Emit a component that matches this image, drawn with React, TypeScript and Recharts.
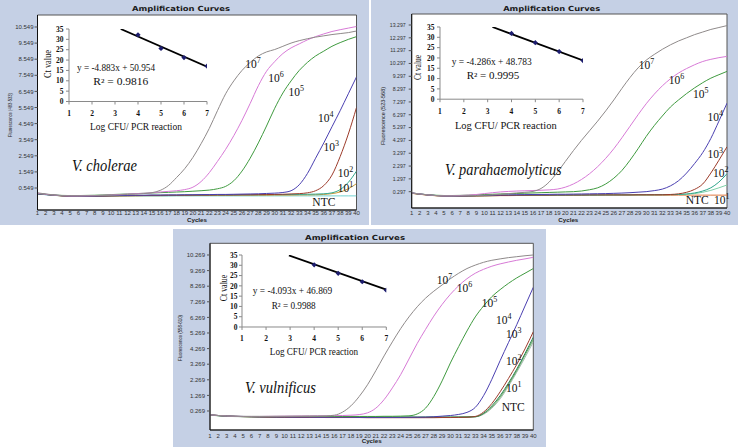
import React from "react";
import {
  LineChart,
  Line,
  XAxis,
  YAxis,
  CartesianGrid,
  ReferenceDot,
  ReferenceArea,
  ComposedChart,
  Scatter,
} from "recharts";

// ---------- categories ----------
const cycles = [1,2,3,4,5,6,7,8,9,10,11,12,13,14,15,16,17,18,19,20,21,22,23,24,25,26,27,28,29,30,31,32,33,34,35,36,37,38,39,40];
const logTicks = [1,2,3,4,5,6,7];
const ctTicks = [0,5,10,15,20,25,30,35];

// ---------- V. cholerae ----------
const chE7 = [0.25,0.18,0.12,0.08,0.06,0.05,0.06,0.07,0.08,0.10,0.12,0.15,0.17,0.20,0.26,0.40,0.70,1.20,1.75,2.45,3.30,4.25,5.35,6.40,7.20,7.85,8.35,8.75,9.00,9.15,9.35,9.55,9.70,9.82,9.92,10.00,10.08,10.14,10.20,10.30];
const chE6 = [0.22,0.16,0.11,0.08,0.06,0.06,0.07,0.08,0.10,0.12,0.14,0.17,0.20,0.22,0.25,0.30,0.34,0.38,0.45,0.60,0.95,1.50,2.20,2.95,3.80,4.75,5.80,6.90,7.80,8.40,8.90,9.25,9.50,9.75,9.95,10.12,10.27,10.38,10.48,10.58];
const chE5 = [0.20,0.15,0.11,0.09,0.08,0.08,0.09,0.10,0.12,0.14,0.16,0.18,0.20,0.22,0.24,0.26,0.28,0.30,0.32,0.35,0.38,0.42,0.50,0.65,1.00,1.60,2.40,3.35,4.40,5.50,6.45,7.20,7.85,8.35,8.75,9.05,9.35,9.58,9.78,9.95];
const chE4 = [0.18,0.14,0.10,0.07,0.05,0.04,0.04,0.05,0.06,0.07,0.08,0.09,0.10,0.10,0.11,0.11,0.12,0.12,0.13,0.13,0.14,0.14,0.15,0.15,0.16,0.17,0.18,0.19,0.21,0.23,0.27,0.38,0.75,1.45,2.40,3.35,4.35,5.35,6.40,7.45];
const chE3 = [0.20,0.15,0.10,0.06,0.04,0.03,0.03,0.04,0.05,0.06,0.07,0.07,0.08,0.08,0.09,0.09,0.10,0.10,0.10,0.11,0.11,0.11,0.12,0.12,0.12,0.13,0.13,0.14,0.14,0.15,0.16,0.18,0.20,0.25,0.38,0.70,1.35,2.50,3.90,5.55];
const chE2 = [0.22,0.16,0.11,0.07,0.05,0.04,0.04,0.05,0.06,0.07,0.08,0.08,0.09,0.09,0.10,0.10,0.10,0.10,0.11,0.11,0.11,0.12,0.12,0.12,0.12,0.13,0.13,0.13,0.14,0.14,0.14,0.15,0.15,0.16,0.17,0.19,0.25,0.45,0.90,1.60];
const chE1 = [0.20,0.15,0.10,0.06,0.04,0.03,0.03,0.04,0.04,0.05,0.05,0.06,0.06,0.07,0.07,0.07,0.08,0.08,0.08,0.08,0.09,0.09,0.09,0.09,0.10,0.10,0.10,0.10,0.10,0.11,0.11,0.11,0.12,0.12,0.13,0.15,0.20,0.30,0.50,0.82];
const chNtc = [0.18,0.13,0.09,0.06,0.04,0.03,0.03,0.03,0.04,0.04,0.04,0.05,0.05,0.05,0.05,0.05,0.05,0.06,0.06,0.06,0.06,0.06,0.06,0.06,0.06,0.06,0.06,0.06,0.06,0.06,0.06,0.06,0.06,0.06,0.06,0.06,0.06,0.06,0.06,0.06];
const chYTicks = [0.549,1.549,2.549,3.549,4.549,5.549,6.549,7.549,8.549,9.549,10.549];
const chPointX = [4,5,6,7];
const chPointY = [32.2,25.6,21.2,17.1];
const chFitX = [3.25,7];
const chFitY = [35.0,16.8];

// ---------- V. parahaemolyticus ----------
const paE7 = [0.20,0.12,0.05,0.00,-0.03,-0.04,-0.03,-0.02,0.00,0.02,0.05,0.10,0.15,0.20,0.25,0.32,0.55,1.05,1.80,2.65,3.50,4.30,5.05,5.80,6.60,7.45,8.35,9.20,9.95,10.55,11.00,11.40,11.75,12.05,12.30,12.55,12.75,12.95,13.10,13.25];
const paE6 = [0.20,0.12,0.05,0.00,-0.02,-0.02,0.00,0.03,0.08,0.15,0.22,0.28,0.32,0.35,0.37,0.39,0.41,0.44,0.50,0.65,0.90,1.25,1.70,2.25,2.90,3.65,4.50,5.40,6.30,7.15,7.90,8.55,9.10,9.55,9.90,10.20,10.45,10.62,10.75,10.85];
const paE5 = [0.20,0.12,0.06,0.02,0.00,0.00,0.01,0.03,0.05,0.08,0.10,0.12,0.14,0.16,0.18,0.20,0.22,0.24,0.26,0.28,0.30,0.35,0.45,0.60,0.90,1.35,1.95,2.75,3.65,4.60,5.45,6.20,6.90,7.45,7.95,8.40,8.80,9.15,9.42,9.68];
const paE4 = [0.20,0.12,0.05,0.00,-0.03,-0.04,-0.03,-0.02,0.00,0.02,0.03,0.04,0.05,0.06,0.07,0.08,0.08,0.09,0.10,0.10,0.11,0.12,0.13,0.14,0.15,0.17,0.19,0.22,0.26,0.30,0.38,0.50,0.75,1.15,1.75,2.50,3.35,4.45,5.80,7.20];
const paE3 = [0.18,0.10,0.04,-0.01,-0.04,-0.05,-0.05,-0.04,-0.03,-0.02,-0.01,0.00,0.01,0.02,0.02,0.03,0.03,0.03,0.04,0.04,0.04,0.04,0.05,0.05,0.05,0.05,0.05,0.05,0.06,0.06,0.06,0.06,0.08,0.13,0.25,0.48,0.90,1.75,2.75,3.80];
const paE2 = [0.19,0.11,0.05,0.00,-0.03,-0.04,-0.04,-0.03,-0.02,-0.01,0.00,0.01,0.01,0.02,0.02,0.02,0.03,0.03,0.03,0.03,0.04,0.04,0.04,0.04,0.05,0.05,0.05,0.05,0.06,0.06,0.06,0.07,0.07,0.08,0.12,0.20,0.35,0.60,1.05,1.70];
const paE1 = [0.18,0.10,0.04,-0.01,-0.04,-0.05,-0.05,-0.04,-0.03,-0.02,-0.01,0.00,0.00,0.01,0.01,0.02,0.02,0.02,0.03,0.03,0.03,0.03,0.04,0.04,0.04,0.04,0.05,0.05,0.05,0.05,0.06,0.06,0.07,0.08,0.10,0.15,0.25,0.40,0.60,0.82];
const paNtc = [0.17,0.09,0.03,-0.02,-0.05,-0.06,-0.06,-0.05,-0.04,-0.03,-0.02,-0.01,-0.01,0.00,0.00,0.00,0.01,0.01,0.01,0.01,0.01,0.01,0.02,0.02,0.02,0.02,0.02,0.02,0.02,0.02,0.02,0.02,0.02,0.03,0.03,0.03,0.03,0.03,0.03,0.03];
const paYTicks = [0.297,1.297,2.297,3.297,4.297,5.297,6.297,7.297,8.297,9.297,10.297,11.297,12.297,13.297];
const paPointX = [4,5,6,7];
const paPointY = [31.9,27.4,23.1,18.7];
const paFitX = [3.2,7];
const paFitY = [35.0,18.8];

// ---------- V. vulnificus ----------
const vuE7 = [0.02,-0.02,-0.05,-0.07,-0.08,-0.08,-0.08,-0.08,-0.07,-0.07,-0.06,-0.06,-0.05,-0.05,-0.04,0.00,0.20,0.60,1.20,1.95,2.85,3.80,4.70,5.55,6.30,6.95,7.50,7.95,8.35,8.75,9.10,9.40,9.62,9.80,9.93,10.02,10.10,10.16,10.22,10.27];
const vuE6 = [0.02,-0.02,-0.05,-0.07,-0.08,-0.08,-0.08,-0.07,-0.07,-0.06,-0.06,-0.05,-0.05,-0.04,-0.04,-0.03,-0.02,0.00,0.04,0.15,0.45,1.00,1.75,2.60,3.60,4.60,5.50,6.35,7.10,7.75,8.30,8.75,9.10,9.35,9.55,9.70,9.82,9.93,10.02,10.12];
const vuE5 = [0.02,-0.02,-0.05,-0.07,-0.08,-0.08,-0.08,-0.08,-0.08,-0.08,-0.08,-0.08,-0.08,-0.08,-0.08,-0.08,-0.08,-0.08,-0.08,-0.08,-0.08,-0.07,-0.07,-0.06,-0.04,0.08,0.45,1.20,2.20,3.35,4.40,5.40,6.30,7.00,7.60,8.05,8.45,8.80,9.10,9.40];
const vuE4 = [0.02,-0.02,-0.05,-0.07,-0.08,-0.09,-0.10,-0.10,-0.11,-0.11,-0.12,-0.12,-0.12,-0.13,-0.13,-0.13,-0.13,-0.13,-0.14,-0.14,-0.14,-0.14,-0.14,-0.14,-0.13,-0.13,-0.12,-0.10,-0.06,-0.02,0.05,0.18,0.50,1.25,2.30,3.50,4.65,5.80,7.00,8.20];
const vuE3 = [0.02,-0.02,-0.05,-0.07,-0.09,-0.10,-0.11,-0.12,-0.12,-0.13,-0.13,-0.14,-0.14,-0.14,-0.15,-0.15,-0.15,-0.15,-0.15,-0.16,-0.16,-0.16,-0.16,-0.16,-0.16,-0.16,-0.16,-0.16,-0.15,-0.15,-0.14,-0.13,-0.08,0.20,0.75,1.50,2.35,3.25,4.25,5.35];
const vuE2 = [0.01,-0.03,-0.06,-0.08,-0.09,-0.10,-0.11,-0.11,-0.12,-0.12,-0.12,-0.13,-0.13,-0.13,-0.13,-0.13,-0.14,-0.14,-0.14,-0.14,-0.14,-0.14,-0.14,-0.14,-0.14,-0.14,-0.14,-0.13,-0.13,-0.13,-0.12,-0.12,-0.10,0.12,0.60,1.25,2.05,2.95,3.95,5.00];
const vuE1 = [0.01,-0.03,-0.06,-0.08,-0.09,-0.10,-0.10,-0.11,-0.11,-0.11,-0.12,-0.12,-0.12,-0.12,-0.12,-0.12,-0.12,-0.12,-0.12,-0.12,-0.12,-0.12,-0.12,-0.12,-0.12,-0.12,-0.12,-0.12,-0.12,-0.12,-0.12,-0.11,-0.10,0.10,0.52,1.15,1.95,2.85,3.85,4.85];
const vuNtc = [0.00,-0.04,-0.07,-0.09,-0.10,-0.11,-0.11,-0.11,-0.12,-0.12,-0.12,-0.12,-0.12,-0.12,-0.12,-0.12,-0.12,-0.12,-0.12,-0.12,-0.12,-0.12,-0.12,-0.12,-0.12,-0.12,-0.12,-0.12,-0.12,-0.12,-0.12,-0.11,-0.10,0.06,0.45,1.05,1.85,2.75,3.70,4.70];
const vuYTicks = [0.269,1.269,2.269,3.269,4.269,5.269,6.269,7.269,8.269,9.269,10.269];
const vuPointX = [4,5,6,7];
const vuPointY = [30.2,26.1,22.0,17.9];
const vuFitX = [2.95,7];
const vuFitY = [34.8,18.2];

// ---------- styling ----------
const serif = "'Liberation Serif','Times New Roman',serif";
const sans = "'Liberation Sans',Arial,sans-serif";
const PANEL_BG = "#c5d0e5";

type Series = { name: string; values: number[]; color: string };
type CurveLabel = { base: string; sup: string; cycle: number; value: number };

interface PanelCfg {
  box: { left: number; top: number; width: number; height: number };
  marginTop: number;
  marginRight: number;
  yAxisWidth: number;
  xAxisHeight: number;
  xTickSize: number;
  xTickMargin: number;
  yTickSize: number;
  yTickMargin: number;
  yTickFont: number;
  yDomain: [number, number];
  yTicks: number[];
  series: Series[];
  labels: CurveLabel[];
  inset: { left: number; top: number; width: number; height: number; yTickMargin: number };
  pointX: number[];
  pointY: number[];
  fitX: number[];
  fitY: number[];
}

const INSET_EXTRA_BOTTOM = 10;

const panels: PanelCfg[] = [
  {
    box: { left: 0, top: 0, width: 369, height: 225 },
    marginTop: 15,
    marginRight: 12.5,
    yAxisWidth: 37.5,
    xAxisHeight: 15,
    xTickSize: 1,
    xTickMargin: 0,
    yTickSize: 3,
    yTickMargin: 1,
    yTickFont: 6,
    yDomain: [-0.817, 11.294],
    yTicks: chYTicks,
    series: [
      { name: "ntc", values: chNtc, color: "#72d2d2" },
      { name: "e1", values: chE1, color: "#c99a3a" },
      { name: "e2", values: chE2, color: "#35a88f" },
      { name: "e3", values: chE3, color: "#9c3b2a" },
      { name: "e4", values: chE4, color: "#4a3fb0" },
      { name: "e5", values: chE5, color: "#3f9a3f" },
      { name: "e6", values: chE6, color: "#d77ad6" },
      { name: "e7", values: chE7, color: "#8f8a8a" },
    ],
    labels: [
      { base: "10", sup: "7", cycle: 26.4, value: 8.25 },
      { base: "10", sup: "6", cycle: 29.2, value: 7.38 },
      { base: "10", sup: "5", cycle: 31.7, value: 6.51 },
      { base: "10", sup: "4", cycle: 35.3, value: 4.9 },
      { base: "10", sup: "3", cycle: 35.96, value: 3.1 },
      { base: "10", sup: "2", cycle: 37.7, value: 1.48 },
      { base: "10", sup: "1", cycle: 37.7, value: 0.55 },
      { base: "NTC", sup: "", cycle: 34.6, value: -0.32 },
    ],
    inset: { left: 44, top: 24, width: 168, height: 91.5, yTickMargin: 2.5 },
    pointX: chPointX,
    pointY: chPointY,
    fitX: chFitX,
    fitY: chFitY,
  },
  {
    box: { left: 371, top: 0, width: 367, height: 225 },
    marginTop: 14,
    marginRight: 11,
    yAxisWidth: 40.7,
    xAxisHeight: 17,
    xTickSize: 2,
    xTickMargin: 1,
    yTickSize: 3,
    yTickMargin: 3,
    yTickFont: 5.2,
    yDomain: [-0.974, 14.155],
    yTicks: paYTicks,
    series: [
      { name: "ntc", values: paNtc, color: "#e07a40" },
      { name: "e1", values: paE1, color: "#7fd0a8" },
      { name: "e2", values: paE2, color: "#2fa58a" },
      { name: "e3", values: paE3, color: "#9c3b2a" },
      { name: "e4", values: paE4, color: "#4a3fb0" },
      { name: "e5", values: paE5, color: "#3f9a3f" },
      { name: "e6", values: paE6, color: "#d77ad6" },
      { name: "e7", values: paE7, color: "#8f8a8a" },
    ],
    labels: [
      { base: "10", sup: "7", cycle: 29.08, value: 10.18 },
      { base: "10", sup: "6", cycle: 32.8, value: 9.01 },
      { base: "10", sup: "5", cycle: 35.78, value: 7.92 },
      { base: "10", sup: "4", cycle: 37.6, value: 6.12 },
      { base: "10", sup: "3", cycle: 37.6, value: 3.24 },
      { base: "10", sup: "2", cycle: 38.26, value: 1.76 },
      { base: "10", sup: "1", cycle: 38.4, value: -0.35 },
      { base: "NTC", sup: "", cycle: 34.9, value: -0.35 },
    ],
    inset: { left: 415, top: 22.3, width: 173, height: 91.2, yTickMargin: 2.5 },
    pointX: paPointX,
    pointY: paPointY,
    fitX: paFitX,
    fitY: paFitY,
  },
  {
    box: { left: 173, top: 229, width: 373, height: 218 },
    marginTop: 14.3,
    marginRight: 12.7,
    yAxisWidth: 37,
    xAxisHeight: 17,
    xTickSize: 2,
    xTickMargin: 1.5,
    yTickSize: 3,
    yTickMargin: 2,
    yTickFont: 6,
    yDomain: [-0.949, 11.019],
    yTicks: vuYTicks,
    series: [
      { name: "ntc", values: vuNtc, color: "#a3b8ae" },
      { name: "e1", values: vuE1, color: "#62b062" },
      { name: "e2", values: vuE2, color: "#2e7d4f" },
      { name: "e3", values: vuE3, color: "#9c3b2a" },
      { name: "e4", values: vuE4, color: "#4a3fb0" },
      { name: "e5", values: vuE5, color: "#3f9a3f" },
      { name: "e6", values: vuE6, color: "#d77ad6" },
      { name: "e7", values: vuE7, color: "#8f8a8a" },
    ],
    labels: [
      { base: "10", sup: "7", cycle: 28.36, value: 8.67 },
      { base: "10", sup: "6", cycle: 30.77, value: 8.13 },
      { base: "10", sup: "5", cycle: 33.78, value: 7.17 },
      { base: "10", sup: "4", cycle: 35.5, value: 6.1 },
      { base: "10", sup: "3", cycle: 36.7, value: 5.19 },
      { base: "10", sup: "2", cycle: 36.7, value: 3.47 },
      { base: "10", sup: "1", cycle: 36.7, value: 1.76 },
      { base: "NTC", sup: "", cycle: 36.19, value: 0.54 },
    ],
    inset: { left: 216.7, top: 250, width: 174.3, height: 91, yTickMargin: 1.5 },
    pointX: vuPointX,
    pointY: vuPointY,
    fitX: vuFitX,
    fitY: vuFitY,
  },
];

// static texts (layout only)
type TextItem = {
  x: number; y: number; t: string; size: number; len?: number;
  anchor?: "start" | "middle" | "end"; family?: string; weight?: string | number;
  italic?: boolean; rotate?: boolean; fill?: string;
};

const titleFont = "'DejaVu Sans',sans-serif";

const texts: TextItem[] = [
  // titles
  { x: 181, y: 10.5, t: "Amplification Curves", size: 7, len: 98, anchor: "middle", family: titleFont, weight: 700, fill: "#1a1a1a" },
  { x: 551.7, y: 10.8, t: "Amplification Curves", size: 7, len: 97, anchor: "middle", family: titleFont, weight: 700, fill: "#1a1a1a" },
  { x: 355, y: 239.8, t: "Amplification Curves", size: 7, len: 100, anchor: "middle", family: titleFont, weight: 700, fill: "#1a1a1a" },
  // cycles
  { x: 197, y: 222, t: "Cycles", size: 6, len: 20, anchor: "middle", family: sans, weight: 700, fill: "#222" },
  { x: 568.3, y: 221.5, t: "Cycles", size: 6, len: 20, anchor: "middle", family: sans, weight: 700, fill: "#222" },
  { x: 371.7, y: 443, t: "Cycles", size: 6, len: 20, anchor: "middle", family: sans, weight: 700, fill: "#222" },
  // fluorescence axis labels
  { x: 12, y: 115, t: "Fluorescence (483-533)", size: 5.5, len: 44, anchor: "middle", family: sans, rotate: true, fill: "#222" },
  { x: 385, y: 116, t: "Fluorescence (523-568)", size: 5.5, len: 58, anchor: "middle", family: sans, rotate: true, fill: "#222" },
  { x: 182, y: 338, t: "Fluorescence (558-610)", size: 5.5, len: 46, anchor: "middle", family: sans, rotate: true, fill: "#222" },
  // species
  { x: 72, y: 170.7, t: "V. cholerae", size: 17, len: 65, family: serif, italic: true, fill: "#111" },
  { x: 445, y: 175, t: "V. parahaemolyticus", size: 17, len: 116.7, family: serif, italic: true, fill: "#111" },
  { x: 245, y: 393.3, t: "V. vulnificus", size: 17, len: 71, family: serif, italic: true, fill: "#111" },
  // equations
  { x: 77, y: 70.5, t: "y = -4.883x + 50.954", size: 9.5, len: 78, family: serif, fill: "#111" },
  { x: 93.3, y: 84.5, t: "R² = 0.9816", size: 9.5, len: 55, family: serif, fill: "#111" },
  { x: 451.7, y: 65, t: "y = -4.286x + 48.783", size: 9.5, len: 80, family: serif, fill: "#111" },
  { x: 466.7, y: 79, t: "R² = 0.9995", size: 9.5, len: 52.6, family: serif, fill: "#111" },
  { x: 252.7, y: 294, t: "y = -4.093x + 46.869", size: 9.5, len: 79.6, family: serif, fill: "#111" },
  { x: 271.7, y: 308.5, t: "R² = 0.9988", size: 9.5, len: 44, family: serif, fill: "#111" },
  // inset axis titles
  { x: 51, y: 64, t: "Ct value", size: 10, len: 28, anchor: "middle", family: serif, rotate: true, fill: "#111" },
  { x: 421, y: 67.5, t: "Ct value", size: 10, len: 25, anchor: "middle", family: serif, rotate: true, fill: "#111" },
  { x: 227, y: 288, t: "Ct value", size: 10, len: 26.7, anchor: "middle", family: serif, rotate: true, fill: "#111" },
  { x: 136, y: 129.5, t: "Log CFU/ PCR reaction", size: 9.5, len: 92, anchor: "middle", family: serif, fill: "#111" },
  { x: 505.8, y: 128.5, t: "Log CFU/ PCR reaction", size: 9.5, len: 101.7, anchor: "middle", family: serif, fill: "#111" },
  { x: 314, y: 354.5, t: "Log CFU/ PCR reaction", size: 9.5, len: 88.3, anchor: "middle", family: serif, fill: "#111" },
];

const makeCurveLabel = (lab: CurveLabel) => (props: any) => {
  const cx = props.cx ?? 0;
  const cy = props.cy ?? 0;
  return (
    <text x={cx} y={cy + 4} fontFamily={serif} fontSize={11.5} fill="#111">
      {lab.base}
      {lab.sup ? (
        <tspan dy={-5} fontSize={8}>
          {lab.sup}
        </tspan>
      ) : null}
    </text>
  );
};

const Diamond = (props: any) => {
  const { cx, cy } = props;
  if (cx == null || cy == null) return <g />;
  const r = 2.6;
  return (
    <polygon
      points={`${cx},${cy - r} ${cx + r},${cy} ${cx},${cy + r} ${cx - r},${cy}`}
      fill="#1d1d6e"
    />
  );
};

function MainChart({ cfg }: { cfg: PanelCfg }) {
  const data = cycles.map((c, i) => {
    const row: Record<string, number> = { cycle: c };
    cfg.series.forEach((s, k) => {
      row["s" + k] = s.values[i];
    });
    return row;
  });
  return (
    <div style={{ position: "absolute", left: cfg.box.left, top: cfg.box.top }}>
      <LineChart
        width={cfg.box.width}
        height={cfg.box.height}
        data={data}
        margin={{ top: cfg.marginTop, right: cfg.marginRight, left: 0, bottom: 0 }}
      >
        <CartesianGrid horizontal={false} vertical={false} fill="#ffffff" />
        <XAxis
          dataKey="cycle"
          type="number"
          domain={[1, 40]}
          ticks={cycles}
          interval={0}
          height={cfg.xAxisHeight}
          tickLine={false}
          tickSize={cfg.xTickSize}
          tickMargin={cfg.xTickMargin}
          axisLine={{ stroke: "#111" }}
          tick={{ fontSize: 6, fill: "#333", fontFamily: sans }}
          allowDataOverflow
        />
        <YAxis
          type="number"
          domain={cfg.yDomain}
          ticks={cfg.yTicks}
          interval={0}
          width={cfg.yAxisWidth}
          tickSize={cfg.yTickSize}
          tickMargin={cfg.yTickMargin}
          tickFormatter={(v: number) => v.toFixed(3)}
          axisLine={{ stroke: "#111" }}
          tickLine={{ stroke: "#555" }}
          tick={{ fontSize: cfg.yTickFont, fill: "#333", fontFamily: sans }}
          allowDataOverflow
        />
        <ReferenceArea
          x1={1}
          x2={40}
          y1={cfg.yDomain[0]}
          y2={cfg.yDomain[1]}
          fill="none"
          stroke="#555"
          strokeWidth={1}
          ifOverflow="visible"
        />
        {cfg.series.map((s, k) => (
          <Line
            key={s.name}
            dataKey={"s" + k}
            stroke={s.color}
            strokeWidth={1}
            dot={false}
            type="monotone"
            isAnimationActive={false}
          />
        ))}
        {cfg.labels.map((lab, i) => (
          <ReferenceDot
            key={"lab" + i}
            x={lab.cycle}
            y={lab.value}
            r={0}
            ifOverflow="visible"
            shape={makeCurveLabel(lab)}
          />
        ))}
      </LineChart>
    </div>
  );
}

function Inset({ cfg }: { cfg: PanelCfg }) {
  const pts = cfg.pointX.map((x, i) => ({ x, y: cfg.pointY[i] }));
  const fit = cfg.fitX.map((x, i) => ({ x, y: cfg.fitY[i] }));
  const tickStyle = { fontSize: 7.5, fontWeight: 700, fill: "#111", fontFamily: serif };
  return (
    <div style={{ position: "absolute", left: cfg.inset.left, top: cfg.inset.top }}>
      <ComposedChart
        width={cfg.inset.width}
        height={cfg.inset.height + INSET_EXTRA_BOTTOM}
        margin={{ top: 5, right: 5, left: 0, bottom: INSET_EXTRA_BOTTOM }}
      >
        <XAxis
          dataKey="x"
          type="number"
          domain={[1, 7]}
          ticks={logTicks}
          interval={0}
          height={14}
          tickSize={3}
          tickMargin={6}
          axisLine={{ stroke: "#8a8a8a" }}
          tickLine={{ stroke: "#8a8a8a" }}
          tick={tickStyle}
          allowDataOverflow
        />
        <YAxis
          dataKey="y"
          type="number"
          domain={[0, 35]}
          ticks={ctTicks}
          interval={0}
          width={25}
          tickSize={3}
          tickMargin={cfg.inset.yTickMargin}
          axisLine={{ stroke: "#8a8a8a" }}
          tickLine={{ stroke: "#8a8a8a" }}
          tick={tickStyle}
          allowDataOverflow
        />
        <Line
          data={fit}
          dataKey="y"
          stroke="#000"
          strokeWidth={1.8}
          dot={false}
          type="linear"
          isAnimationActive={false}
        />
        <Scatter data={pts} dataKey="y" shape={Diamond} isAnimationActive={false} />
      </ComposedChart>
    </div>
  );
}

export default function App() {
  return (
    <div
      style={{
        position: "absolute",
        left: 0,
        top: 0,
        width: 738,
        height: 447,
        background: "#ffffff",
        overflow: "hidden",
      }}
    >
      {panels.map((p, i) => (
        <div
          key={"bg" + i}
          style={{
            position: "absolute",
            left: p.box.left,
            top: p.box.top,
            width: p.box.width,
            height: p.box.height,
            background: PANEL_BG,
          }}
        />
      ))}
      {panels.map((p, i) => (
        <MainChart key={"m" + i} cfg={p} />
      ))}
      {panels.map((p, i) => (
        <Inset key={"in" + i} cfg={p} />
      ))}
      <svg
        width={738}
        height={447}
        style={{ position: "absolute", left: 0, top: 0, pointerEvents: "none" }}
      >
        {texts.map((t, i) => (
          <text
            key={"t" + i}
            x={t.x}
            y={t.y}
            fontSize={t.size}
            fontFamily={t.family}
            fontWeight={t.weight ?? 400}
            fontStyle={t.italic ? "italic" : "normal"}
            textAnchor={t.anchor ?? "start"}
            fill={t.fill ?? "#111"}
            textLength={t.len}
            lengthAdjust="spacingAndGlyphs"
            transform={t.rotate ? `rotate(-90 ${t.x} ${t.y})` : undefined}
          >
            {t.t}
          </text>
        ))}
      </svg>
    </div>
  );
}
